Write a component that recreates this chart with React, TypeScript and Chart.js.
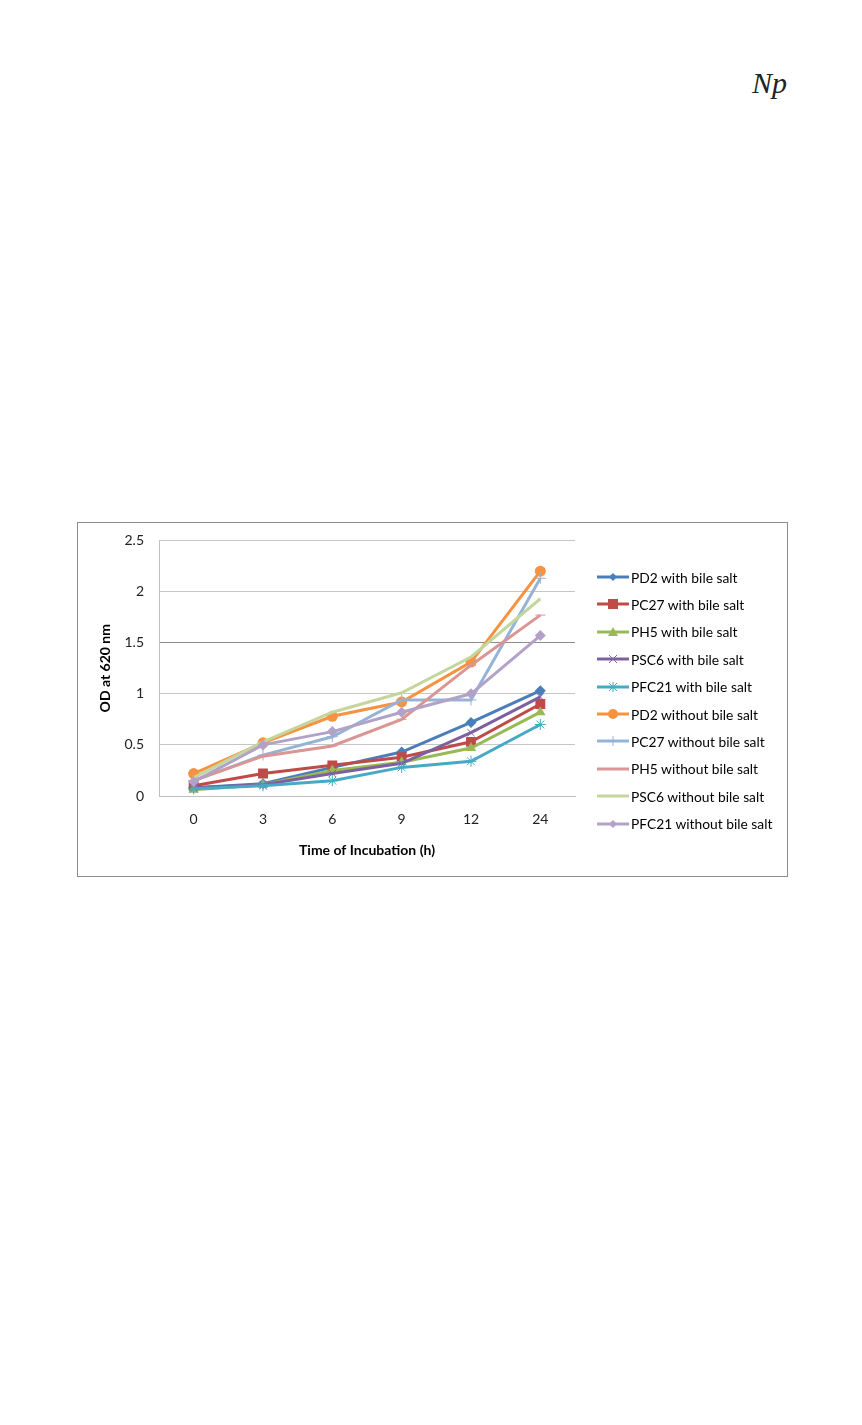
import { useEffect, useRef } from 'react'
import Chart, { type ChartConfiguration } from 'chart.js/auto'

// Time points (h) and OD readings per strain
const HOURS = ['0', '3', '6', '9', '12', '24']
const PD2_WITH = [0.08, 0.12, 0.28, 0.43, 0.72, 1.03]
const PC27_WITH = [0.1, 0.22, 0.3, 0.38, 0.53, 0.9]
const PH5_WITH = [0.06, 0.11, 0.25, 0.33, 0.47, 0.82]
const PSC6_WITH = [0.08, 0.11, 0.22, 0.32, 0.62, 0.97]
const PFC21_WITH = [0.07, 0.1, 0.15, 0.28, 0.34, 0.7]
const PD2_WITHOUT = [0.22, 0.52, 0.78, 0.92, 1.31, 2.2]
const PC27_WITHOUT = [0.15, 0.4, 0.58, 0.94, 0.94, 2.13]
const PH5_WITHOUT = [0.15, 0.39, 0.49, 0.75, 1.28, 1.77]
const PSC6_WITHOUT = [0.18, 0.53, 0.82, 1.01, 1.36, 1.93]
const PFC21_WITHOUT = [0.14, 0.5, 0.63, 0.82, 1.0, 1.57]
const Y_TICKS = [0, 0.5, 1, 1.5, 2, 2.5]

const FONT = 'Lato, "Open Sans", sans-serif'

type Marker = 'diamond' | 'square' | 'triangle' | 'x' | 'star' | 'circle' | 'plus' | 'dash' | 'none'

const SERIES: { label: string; data: number[]; color: string; marker: Marker; r: number }[] = [
  { label: 'PD2 with bile salt', data: PD2_WITH, color: '#4a7ebb', marker: 'diamond', r: 5.5 },
  { label: 'PC27 with bile salt', data: PC27_WITH, color: '#be4b48', marker: 'square', r: 7 },
  { label: 'PH5 with bile salt', data: PH5_WITH, color: '#98b954', marker: 'triangle', r: 6 },
  { label: 'PSC6 with bile salt', data: PSC6_WITH, color: '#7d60a0', marker: 'x', r: 5 },
  { label: 'PFC21 with bile salt', data: PFC21_WITH, color: '#46aac5', marker: 'star', r: 5.5 },
  { label: 'PD2 without bile salt', data: PD2_WITHOUT, color: '#f69240', marker: 'circle', r: 5.5 },
  { label: 'PC27 without bile salt', data: PC27_WITHOUT, color: '#95b3d7', marker: 'plus', r: 5.5 },
  { label: 'PH5 without bile salt', data: PH5_WITHOUT, color: '#d99694', marker: 'dash', r: 5 },
  { label: 'PSC6 without bile salt', data: PSC6_WITHOUT, color: '#c3d69b', marker: 'none', r: 0 },
  { label: 'PFC21 without bile salt', data: PFC21_WITHOUT, color: '#b3a2c7', marker: 'diamond', r: 5.5 },
]

const POINT_STYLE: Record<Marker, string> = {
  diamond: 'rectRot',
  square: 'rect',
  triangle: 'triangle',
  x: 'crossRot',
  star: 'star',
  circle: 'circle',
  plus: 'cross',
  dash: 'line',
  none: 'circle',
}

// small svg marker for the html legend
function LegendMark({ marker, color }: { marker: Marker; color: string }) {
  const c = 16
  const m = 7
  let mark: React.ReactNode = null
  if (marker === 'diamond') mark = <polygon points={`${c},${m - 4} ${c + 4},${m} ${c},${m + 4} ${c - 4},${m}`} fill={color} />
  if (marker === 'square') mark = <rect x={c - 5} y={m - 5} width={10} height={10} fill={color} />
  if (marker === 'triangle') mark = <polygon points={`${c},${m - 5} ${c + 5},${m + 4} ${c - 5},${m + 4}`} fill={color} />
  if (marker === 'circle') mark = <circle cx={c} cy={m} r={5} fill={color} />
  if (marker === 'x')
    mark = <path d={`M${c - 4} ${m - 4}L${c + 4} ${m + 4}M${c + 4} ${m - 4}L${c - 4} ${m + 4}`} stroke={color} strokeWidth={1} />
  if (marker === 'star')
    mark = (
      <path
        d={`M${c - 4} ${m - 4}L${c + 4} ${m + 4}M${c + 4} ${m - 4}L${c - 4} ${m + 4}M${c} ${m - 5}L${c} ${m + 5}`}
        stroke={color}
        strokeWidth={1}
      />
    )
  if (marker === 'plus') mark = <path d={`M${c} ${m - 5}L${c} ${m + 5}`} stroke={color} strokeWidth={1} />
  return (
    <svg width={32} height={14} style={{ display: 'block' }}>
      <line x1={0} y1={m} x2={32} y2={m} stroke={color} strokeWidth={3} />
      {mark}
    </svg>
  )
}

export default function App() {
  const canvasRef = useRef<HTMLCanvasElement>(null)

  useEffect(() => {
    const canvas = canvasRef.current
    if (!canvas) return
    const config = {
      type: 'line',
      data: {
        labels: HOURS,
        datasets: SERIES.map((s, i) => ({
          label: s.label,
          data: s.data,
          borderColor: s.color,
          backgroundColor: s.color,
          borderWidth: 3,
          pointStyle: POINT_STYLE[s.marker],
          pointRadius: s.r,
          pointBorderWidth: s.marker === 'x' || s.marker === 'star' || s.marker === 'plus' || s.marker === 'dash' ? 1 : 0,
          pointBorderColor: s.color,
          pointBackgroundColor: s.color,
          tension: 0,
          order: 9 - i,
        })),
      },
      options: {
        responsive: true,
        maintainAspectRatio: false,
        animation: false,
        layout: { padding: { top: 17.5, right: 212, left: 0, bottom: 0 } },
        plugins: { legend: { display: false }, tooltip: { enabled: false } },
        scales: {
          x: {
            offset: true,
            grid: { display: false, drawTicks: false },
            border: { display: true, color: '#c0c0c0', width: 1 },
            ticks: { color: '#222', font: { family: FONT, size: 14 }, padding: 15 },
            title: {
              display: true,
              text: 'Time of Incubation (h)',
              color: '#000',
              font: { family: FONT, size: 14, weight: 'bold' },
              padding: { top: 0, bottom: 17 },
            },
            afterFit: (scale: { height: number }) => {
              scale.height = 80
            },
          },
          y: {
            min: 0,
            max: 2.5,
            afterBuildTicks: (scale: { ticks: { value: number }[] }) => {
              scale.ticks = Y_TICKS.map((v) => ({ value: v }))
            },
            grid: {
              drawTicks: false,
              color: (ctx: { tick?: { value: number } }) => (ctx.tick && ctx.tick.value === 1.5 ? '#8c8c8c' : '#c6c6c6'),
            },
            border: { display: true, color: '#c0c0c0', width: 1 },
            ticks: {
              color: '#222',
              font: { family: FONT, size: 14 },
              padding: 15,
              callback: (v: number | string) => String(v),
            },
            title: {
              display: true,
              text: 'OD at 620 nm',
              color: '#000',
              font: { family: FONT, size: 14, weight: 'bold' },
              padding: { top: 19, bottom: 0 },
            },
            // fixed axis width; drop the label-based top/bottom padding so layout.padding sets the plot top
            afterFit: (scale: { width: number; paddingTop: number; paddingBottom: number }) => {
              scale.width = 81
              scale.paddingTop = 0
              scale.paddingBottom = 0
            },
          },
        },
      },
    } as unknown as ChartConfiguration

    const chart = new Chart(canvas, config)
    return () => chart.destroy()
  }, [])

  return (
    <div style={{ position: 'relative', width: 862, height: 1425, margin: -8, background: '#fff' }}>
      <div
        style={{
          position: 'absolute',
          left: 752,
          top: 68,
          fontFamily: '"Liberation Serif", serif',
          fontStyle: 'italic',
          fontSize: 30,
          color: '#222',
          lineHeight: 1,
        }}
      >
        Np
      </div>
      <div
        style={{
          position: 'absolute',
          left: 77,
          top: 522,
          width: 711,
          height: 355,
          boxSizing: 'border-box',
          border: '1px solid #8c8c8c',
        }}
      >
        <div style={{ position: 'absolute', left: 0, top: 0, width: 709, height: 353 }}>
          <canvas ref={canvasRef} />
        </div>
        {SERIES.map((s, i) => (
          <div
            key={s.label}
            style={{
              position: 'absolute',
              left: 597 - 78,
              top: 577 - 523 - 7 + i * 27.4,
              height: 14,
              display: 'flex',
              alignItems: 'center',
              gap: 2,
              fontFamily: FONT,
              fontSize: 13.8,
              color: '#000',
              whiteSpace: 'nowrap',
            }}
          >
            <LegendMark marker={s.marker} color={s.color} />
            <span>{s.label}</span>
          </div>
        ))}
      </div>
    </div>
  )
}
